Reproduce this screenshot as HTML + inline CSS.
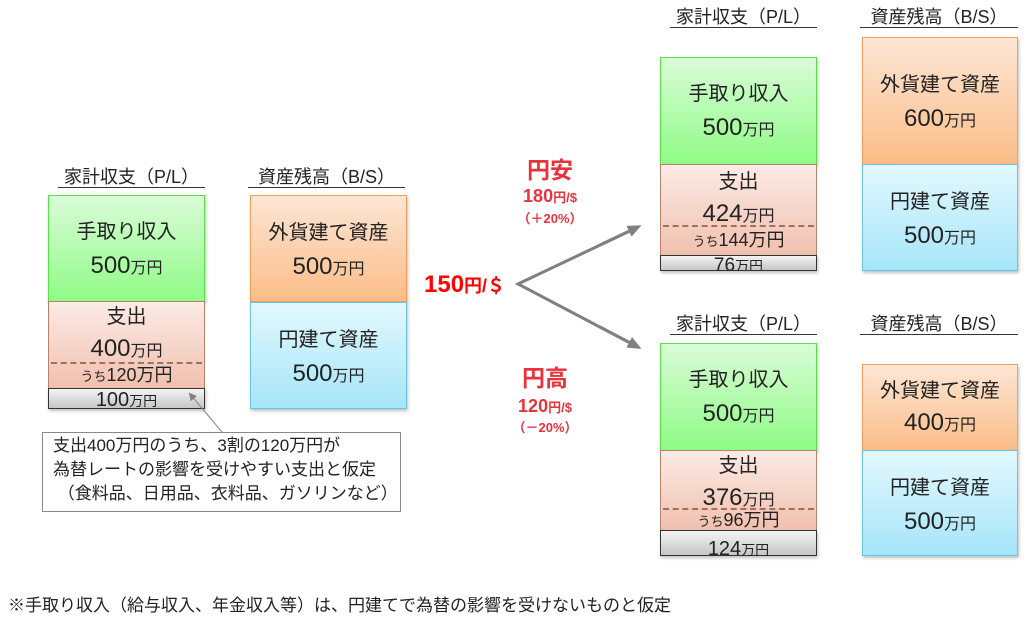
<!DOCTYPE html>
<html><head><meta charset="utf-8"><style>
body{margin:0;width:1026px;height:625px;background:#fff;position:relative;overflow:hidden;font-family:"Liberation Sans","Noto Sans CJK JP",sans-serif;color:#222}
.a{position:absolute}
.t{position:absolute;font-size:18px;text-align:center;border-bottom:1.5px solid #333;line-height:20px;white-space:nowrap}
.b{position:absolute;box-sizing:border-box;text-align:center;font-size:20px;box-shadow:1px 2px 3px rgba(0,0,0,.25)}
.n{font-size:24px}
.g{background:linear-gradient(#dafcd8,#8ffb86);border:1px solid #5ce04a}
.p{background:linear-gradient(#fcebe6,#f0c0ae);border:1px solid #b9806a;box-shadow:none}
.y{background:linear-gradient(#f4f4f4,#c6c6c6);border:1px solid #333;font-size:15px;line-height:16px}
.o{background:linear-gradient(#fde6d5,#fbbd88);border:1px solid #f3a05b}
.c{background:linear-gradient(#e3f8fe,#a6e5f9);border:1px solid #6cc4e4}
.d{position:absolute;left:2px;right:2px;border-top:2px dashed #a0705a}
.s{font-size:16px}
.r{position:absolute;color:#e8323c;font-weight:bold;text-align:center}
</style></head><body>

<!-- Left -->
<div class="t" style="left:58px;top:167px;width:147px">家計収支（P/L）</div>
<div class="t" style="left:248px;top:167px;width:157px">資産残高（B/S）</div>
<div class="b g" style="left:48px;top:195px;width:157px;height:107px;padding-top:20px;line-height:33px">手取り収入<br><span class="n">500</span><span class="s">万円</span></div>
<div class="b p" style="left:48px;top:301px;width:157px;height:88px;padding-top:0;line-height:31px">支出<br><span class="n">400</span><span class="s">万円</span>
<div class="d" style="top:60px"></div><div class="a" style="left:0;right:0;top:62px;font-size:18px;line-height:22px"><span style="font-size:13px">うち</span>120万円</div></div>
<div class="b y" style="left:48px;top:388px;width:157px;height:21px;font-size:20px;line-height:22px">100<span style="font-size:14px">万円</span></div>
<div class="b o" style="left:250px;top:195px;width:157px;height:107px;padding-top:20px;line-height:34px">外貨建て資産<br><span class="n">500</span><span class="s">万円</span></div>
<div class="b c" style="left:250px;top:302px;width:157px;height:107px;padding-top:20px;line-height:34px">円建て資産<br><span class="n">500</span><span class="s">万円</span></div>

<!-- callout -->
<div class="a" style="left:42px;top:432px;width:359px;height:80px;border:1px solid #888;box-sizing:border-box;font-size:17px;line-height:24px;padding:1px 0 0 10px;white-space:nowrap">支出400万円のうち、3割の120万円が<br>為替レートの影響を受けやすい支出と仮定<br>&nbsp;（食料品、日用品、衣料品、ガソリンなど）</div>

<svg class="a" style="left:0;top:0" width="1026" height="625">
<defs><marker id="m" markerWidth="8" markerHeight="8" refX="6" refY="4" orient="auto" markerUnits="userSpaceOnUse"><path d="M0,0 L8,4 L0,8z" fill="#808080"/></marker>
<marker id="m2" markerWidth="14" markerHeight="12" refX="10" refY="6" orient="auto" markerUnits="userSpaceOnUse"><path d="M0,0 L14,6 L0,12z" fill="#808080"/></marker></defs>
<line x1="222" y1="432" x2="190" y2="394" stroke="#888" stroke-width="1" marker-end="url(#m)"/>
<polyline points="634,229 518,284 634,345" fill="none" stroke="#808080" stroke-width="3"/>
<line x1="600" y1="245" x2="638" y2="227" stroke="#808080" stroke-width="3" marker-end="url(#m2)"/>
<line x1="600" y1="327" x2="638" y2="347" stroke="#808080" stroke-width="3" marker-end="url(#m2)"/>
</svg>

<!-- middle -->
<div class="r" style="left:424px;top:271px;width:95px;font-size:24px;color:#f00;line-height:28px;text-align:left">150<span style="font-size:18px">円/＄</span></div>
<div class="r" style="left:510px;top:156px;width:80px;font-size:23px;line-height:28px">円安</div>
<div class="r" style="left:505px;top:185px;width:90px;font-size:18px;line-height:22px">180<span style="font-size:13px">円/$</span></div>
<div class="r" style="left:505px;top:210px;width:90px;font-size:13px;line-height:18px">（＋20%）</div>
<div class="r" style="left:505px;top:364px;width:80px;font-size:23px;line-height:28px">円高</div>
<div class="r" style="left:500px;top:395px;width:90px;font-size:18px;line-height:22px">120<span style="font-size:13px">円/$</span></div>
<div class="r" style="left:500px;top:419px;width:90px;font-size:13px;line-height:18px">（－20%）</div>

<!-- right top -->
<div class="t" style="left:670px;top:7px;width:147px">家計収支（P/L）</div>
<div class="t" style="left:860px;top:7px;width:158px">資産残高（B/S）</div>
<div class="b g" style="left:660px;top:57px;width:157px;height:108px;padding-top:20px;line-height:33px">手取り収入<br><span class="n">500</span><span class="s">万円</span></div>
<div class="b p" style="left:660px;top:164px;width:157px;height:92px;padding-top:1px;line-height:32px">支出<br><span class="n">424</span><span class="s">万円</span>
<div class="d" style="top:60px"></div><div class="a" style="left:0;right:0;top:63px;font-size:18px;line-height:24px"><span style="font-size:13px">うち</span>144万円</div></div>
<div class="b y" style="left:660px;top:255px;width:157px;height:16px;overflow:hidden;font-size:19px;line-height:20px">76<span style="font-size:14px">万円</span></div>
<div class="b o" style="left:862px;top:37px;width:156px;height:128px;padding-top:30px;line-height:34px">外貨建て資産<br><span class="n">600</span><span class="s">万円</span></div>
<div class="b c" style="left:862px;top:164px;width:156px;height:107px;padding-top:20px;line-height:34px">円建て資産<br><span class="n">500</span><span class="s">万円</span></div>

<!-- right bottom -->
<div class="t" style="left:670px;top:314px;width:147px">家計収支（P/L）</div>
<div class="t" style="left:860px;top:314px;width:158px">資産残高（B/S）</div>
<div class="b g" style="left:660px;top:343px;width:157px;height:108px;padding-top:20px;line-height:33px">手取り収入<br><span class="n">500</span><span class="s">万円</span></div>
<div class="b p" style="left:660px;top:450px;width:157px;height:81px;padding-top:0;line-height:31px">支出<br><span class="n">376</span><span class="s">万円</span>
<div class="d" style="top:57px"></div><div class="a" style="left:0;right:0;top:58px;font-size:18px;line-height:22px"><span style="font-size:13px">うち</span>96万円</div></div>
<div class="b y" style="left:660px;top:530px;width:157px;height:26px;font-size:20px;line-height:36px">124<span style="font-size:14px">万円</span></div>
<div class="b o" style="left:862px;top:364px;width:156px;height:87px;padding-top:10px;line-height:32px">外貨建て資産<br><span class="n">400</span><span class="s">万円</span></div>
<div class="b c" style="left:862px;top:450px;width:156px;height:106px;padding-top:20px;line-height:34px">円建て資産<br><span class="n">500</span><span class="s">万円</span></div>

<div class="a" style="left:8px;top:595px;font-size:17px;line-height:22px;white-space:nowrap">※手取り収入（給与収入、年金収入等）は、円建てで為替の影響を受けないものと仮定</div>
</body></html>
